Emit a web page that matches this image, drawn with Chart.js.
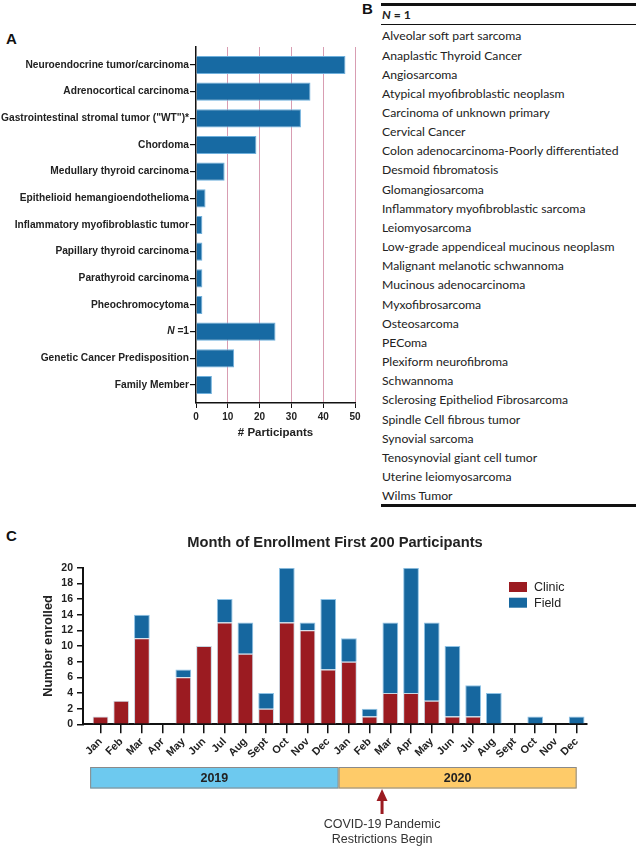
<!DOCTYPE html>
<html><head><meta charset="utf-8">
<script src="https://cdn.jsdelivr.net/npm/chart.js@4"></script>
<style>
body{margin:0;width:636px;height:849px;background:#fff;position:relative;overflow:hidden;font-family:"Liberation Sans",Arial,sans-serif;}
.pl{position:absolute;font-weight:bold;font-size:15px;color:#111;line-height:15px;}
canvas{position:absolute;left:0;}
#cA{top:28px;}
#cC{top:528px;}
.hl{position:absolute;left:381px;width:255px;background:#111;}
#hdr{position:absolute;left:382px;top:5px;height:19px;line-height:19px;font-family:Lato,"Open Sans",sans-serif;font-size:12.2px;font-weight:bold;color:#222;}
#rows{position:absolute;left:382px;top:26.4px;font-family:Lato,"Open Sans",sans-serif;font-size:12.2px;line-height:19.15px;color:#222;white-space:nowrap;}
</style></head>
<body>
<div class="pl" style="left:6px;top:31px;">A</div>
<div class="pl" style="left:362px;top:1px;">B</div>
<div class="pl" style="left:6px;top:528px;">C</div>
<canvas id="cA" width="370" height="420"></canvas>
<div class="hl" style="top:3px;height:2.5px;"></div>
<div id="hdr"><i>N</i> = 1</div>
<div class="hl" style="top:23.5px;height:1.3px;"></div>
<div id="rows"></div>
<div class="hl" style="top:504px;height:2.5px;"></div>
<canvas id="cC" width="636" height="321"></canvas>
<script>
const typeLabels = ['Neuroendocrine tumor/carcinoma','Adrenocortical carcinoma','Gastrointestinal stromal tumor ("WT")*','Chordoma','Medullary thyroid carcinoma','Epithelioid hemangioendothelioma','Inflammatory myofibroblastic tumor','Papillary thyroid carcinoma','Parathyroid carcinoma','Pheochromocytoma','N =1','Genetic Cancer Predisposition','Family Member'];
const typeCounts = [47,36,33,19,9,3,2,2,2,2,25,12,5];
const n1Types = ['Alveolar soft part sarcoma','Anaplastic Thyroid Cancer','Angiosarcoma','Atypical myofibroblastic neoplasm','Carcinoma of unknown primary','Cervical Cancer','Colon adenocarcinoma-Poorly differentiated','Desmoid fibromatosis','Glomangiosarcoma','Inflammatory myofibroblastic sarcoma','Leiomyosarcoma','Low-grade appendiceal mucinous neoplasm','Malignant melanotic schwannoma','Mucinous adenocarcinoma','Myxofibrosarcoma','Osteosarcoma','PEComa','Plexiform neurofibroma','Schwannoma','Sclerosing Epitheliod Fibrosarcoma','Spindle Cell fibrous tumor','Synovial sarcoma','Tenosynovial giant cell tumor','Uterine leiomyosarcoma','Wilms Tumor'];
const monthLabels = ['Jan','Feb','Mar','Apr','May','Jun','Jul','Aug','Sept','Oct','Nov','Dec','Jan','Feb','Mar','Apr','May','Jun','Jul','Aug','Sept','Oct','Nov','Dec'];
const clinicCounts = [1,3,11,0,6,10,13,9,2,13,12,7,8,1,4,4,3,1,1,0,0,0,0,0];
const fieldCounts  = [0,0,3,0,1,0,3,4,2,7,1,9,3,1,9,16,10,9,4,4,0,1,0,1];
const yearLabels = ['2019','2020'];
const seriesNames = ['Clinic','Field'];
const panelCTitle = 'Month of Enrollment First 200 Participants';
const covidNote = ['COVID-19 Pandemic','Restrictions Begin'];

document.getElementById('rows').innerHTML = n1Types.map(t=>'<div>'+t+'</div>').join('');

const FAM = '"Liberation Sans", Arial, sans-serif';
const fb = s => ({family:FAM, size:s, weight:'bold'});
const N1IDX = typeLabels.indexOf('N =1');

const n1Plugin = {
  id:'n1', afterDraw(chart){
    const ys = chart.scales.y, ctx = chart.ctx;
    const y = ys.getPixelForValue(N1IDX);
    const xr = ys.right - 6 - 1;
    ctx.save();
    ctx.fillStyle = '#222'; ctx.textBaseline = 'middle'; ctx.textAlign = 'left';
    ctx.font = 'bold 10.2px ' + FAM;
    const rest = ' =1'; const wr = ctx.measureText(rest).width;
    ctx.font = 'italic bold 10.2px ' + FAM;
    const wn = ctx.measureText('N').width;
    ctx.fillText('N', xr - wr - wn, y);
    ctx.font = 'bold 10.2px ' + FAM;
    ctx.fillText(rest, xr - wr, y);
    ctx.restore();
  }
};

new Chart(document.getElementById('cA'), {
  type:'bar',
  data:{datasets:[{data:typeCounts.map((v,i)=>({x:v,y:i})), backgroundColor:'#176aa3', borderColor:'#6fb0dc', borderWidth:1, barPercentage:0.68, categoryPercentage:1}]},
  options:{indexAxis:'y', responsive:false, animation:false,
    layout:{padding:{top:19,right:15,left:0,bottom:0}},
    plugins:{legend:{display:false}, tooltip:{enabled:false}},
    scales:{
      x:{type:'linear', min:0, max:50,
        ticks:{stepSize:10, font:fb(10), color:'#222', padding:3},
        grid:{color:c=>(c.tick && c.tick.value===0)?'rgba(0,0,0,0)':'#d89db2', tickColor:'#111', tickLength:5, lineWidth:1},
        border:{color:'#111', width:1.5},
        title:{display:true, text:'# Participants', font:fb(11.5), color:'#222', padding:{top:0,bottom:8.4}},
        afterFit:s=>{s.height=45;}},
      y:{type:'linear', reverse:true, offset:false, min:-0.675, max:12.675,
        afterBuildTicks:s=>{s.ticks=typeLabels.map((_,i)=>({value:i}));},
        ticks:{callback:v=>(v===N1IDX?'':typeLabels[v]), font:fb(10.2), color:'#222', padding:1, autoSkip:false},
        grid:{offset:false, drawOnChartArea:false, tickColor:'#111', tickLength:6, lineWidth:1.2},
        border:{color:'#111', width:1.5},
        afterFit:s=>{s.width=196;}}
    }},
  plugins:[n1Plugin]
});

const decorC = {
  id:'decorC', afterDraw(chart){
    const xs = chart.scales.x, ctx = chart.ctx;
    ctx.save();
    chart.data.datasets.forEach((d,k)=>{
      const y0 = 54 + k*15.7;
      ctx.fillStyle = d.backgroundColor; ctx.fillRect(509, y0, 18, 10);
      ctx.fillStyle = '#222'; ctx.font = '12.5px ' + FAM; ctx.textBaseline = 'middle'; ctx.textAlign='left';
      ctx.fillText(d.label, 534, y0 + 5.5);
    });
    const spans = [[-0.5,11.5],[11.5,23]];
    const fills = ['#6dc9ef','#fecb69'];
    const yb = 239, yh = 21.5;
    yearLabels.forEach((yr,k)=>{
      const a = xs.getPixelForValue(spans[k][0]), b = xs.getPixelForValue(spans[k][1]);
      ctx.fillStyle = fills[k]; ctx.fillRect(a, yb, b-a, yh);
      ctx.strokeStyle = '#8a8a8a'; ctx.lineWidth = 1; ctx.strokeRect(a+0.5, yb+0.5, b-a-1, yh-1);
      ctx.fillStyle = '#222'; ctx.font = 'bold 12.5px ' + FAM; ctx.textAlign = 'center'; ctx.textBaseline = 'middle';
      ctx.fillText(yr, (a+b)/2, yb + yh/2 + 0.5);
    });
    const ax = xs.getPixelForValue(13.6);
    ctx.fillStyle = '#9b1b21';
    ctx.beginPath(); ctx.moveTo(ax, 261); ctx.lineTo(ax-5.5, 273); ctx.lineTo(ax+5.5, 273); ctx.closePath(); ctx.fill();
    ctx.fillRect(ax-1.5, 272, 3, 14);
    ctx.fillStyle = '#333'; ctx.font = '12.5px ' + FAM; ctx.textAlign = 'center'; ctx.textBaseline = 'middle';
    ctx.fillText(covidNote[0], ax, 297);
    ctx.fillText(covidNote[1], ax, 312);
    ctx.restore();
  }
};

new Chart(document.getElementById('cC'), {
  type:'bar',
  data:{datasets:[
    {label:seriesNames[0], data:clinicCounts.map((v,i)=>({x:i,y:v})), backgroundColor:'#9b1b21', borderColor:'#c8d6e2', borderWidth:1},
    {label:seriesNames[1], data:fieldCounts.map((v,i)=>({x:i,y:v})), backgroundColor:'#16679f', borderColor:'#8fc3e6', borderWidth:1}
  ]},
  options:{responsive:false, animation:false,
    datasets:{bar:{barPercentage:0.76, categoryPercentage:1}},
    layout:{padding:{left:0,right:49,top:0,bottom:0}},
    plugins:{legend:{display:false}, tooltip:{enabled:false},
      title:{display:true, fullSize:false, text:panelCTitle, font:fb(14.7), color:'#222', padding:{top:5.9,bottom:16.2}}},
    scales:{
      x:{type:'linear', stacked:true, offset:false, min:-0.845, max:23.5,
        afterBuildTicks:s=>{s.ticks=monthLabels.map((_,i)=>({value:i}));},
        ticks:{callback:v=>monthLabels[v], autoSkip:false, minRotation:45, maxRotation:45, font:fb(10.8), color:'#222', padding:2},
        grid:{offset:false, drawOnChartArea:false, tickColor:'#111', tickLength:9, lineWidth:1.5},
        border:{color:'#111', width:2},
        afterFit:s=>{s.height=124.7;}},
      y:{stacked:true, min:0, max:20,
        ticks:{stepSize:2, font:fb(10.5), color:'#222', padding:4},
        grid:{drawOnChartArea:false, tickColor:'#111', tickLength:6, lineWidth:1.5},
        border:{color:'#111', width:2},
        title:{display:true, text:'Number enrolled', font:fb(12.8), color:'#222', padding:{top:40.3,bottom:0}},
        afterFit:s=>{s.width=83;}}
    }},
  plugins:[decorC]
});
</script>
</body></html>
